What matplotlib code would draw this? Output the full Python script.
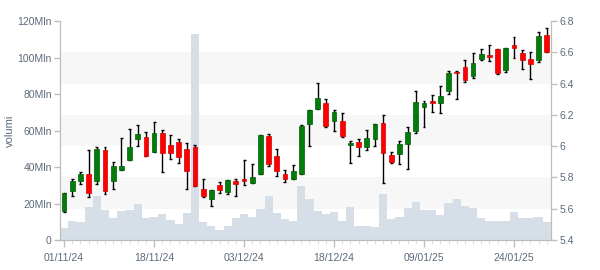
import matplotlib
matplotlib.use("Agg")
import matplotlib.pyplot as plt
from matplotlib.patches import Rectangle
from matplotlib.transforms import blended_transform_factory

plt.rcParams['font.family'] = ['Liberation Sans', 'DejaVu Sans']

# daily OHLC prices (right axis) and volumes in millions (left axis)
opens = [5.585, 5.711, 5.779, 5.822, 5.779, 5.975, 5.779, 5.850, 5.914, 6.044,
         6.056, 5.965, 6.082, 6.005, 6.027, 5.980, 5.992, 5.724, 5.660, 5.749,
         5.705, 5.775, 5.790, 5.762, 5.824, 6.065, 5.937, 5.822, 5.792, 5.824,
         6.144, 6.235, 6.274, 6.163, 6.159, 6.009, 6.027, 5.997, 6.044, 6.148,
         5.941, 5.952, 6.016, 6.099, 6.252, 6.289, 6.278, 6.350, 6.474, 6.504,
         6.451, 6.557, 6.583, 6.619, 6.487, 6.644, 6.593, 6.555, 6.549, 6.711]
highs = [5.700, 5.792, 5.837, 5.975, 5.997, 5.997, 5.901, 6.050, 6.108, 6.133,
         6.093, 6.152, 6.101, 6.069, 6.044, 6.018, 6.005, 5.788, 5.718, 5.773,
         5.784, 5.788, 5.909, 5.886, 6.071, 6.078, 5.982, 5.845, 5.877, 6.133,
         6.231, 6.404, 6.299, 6.229, 6.210, 6.031, 6.046, 6.101, 6.142, 6.197,
         5.960, 6.031, 6.120, 6.353, 6.289, 6.325, 6.382, 6.478, 6.480, 6.549,
         6.593, 6.619, 6.647, 6.619, 6.630, 6.696, 6.617, 6.600, 6.730, 6.753]
lows = [5.581, 5.681, 5.756, 5.673, 5.756, 5.696, 5.724, 5.845, 5.911, 6.001,
        5.939, 5.960, 5.833, 5.916, 5.890, 5.724, 5.743, 5.675, 5.617, 5.700,
        5.694, 5.681, 5.754, 5.762, 5.824, 5.871, 5.807, 5.769, 5.788, 5.824,
        5.999, 6.235, 6.125, 6.099, 6.056, 5.890, 5.935, 5.975, 6.003, 5.767,
        5.890, 5.884, 5.852, 6.086, 6.120, 6.216, 6.210, 6.331, 6.299, 6.412,
        6.434, 6.553, 6.542, 6.459, 6.472, 6.567, 6.491, 6.427, 6.540, 6.600]
closes = [5.700, 5.775, 5.820, 5.703, 5.980, 5.715, 5.873, 5.873, 5.995, 6.078,
          5.939, 6.082, 5.958, 5.954, 5.933, 5.843, 5.743, 5.683, 5.718, 5.722,
          5.781, 5.760, 5.777, 5.803, 6.071, 5.888, 5.839, 5.788, 5.841, 6.129,
          6.231, 6.306, 6.129, 6.216, 6.067, 6.020, 5.997, 6.050, 6.142, 5.958,
          5.899, 6.012, 6.088, 6.282, 6.274, 6.278, 6.321, 6.468, 6.466, 6.425,
          6.532, 6.589, 6.572, 6.468, 6.625, 6.627, 6.553, 6.523, 6.704, 6.600]
volumes = [6.6, 10.4, 9.9, 18.1, 24.1, 16.4, 12.1, 15.9, 16.4, 19.7,
           12.1, 12.6, 14.2, 11.0, 8.8, 14.8, 112.9, 9.9, 7.7, 5.5,
           7.7, 12.1, 14.2, 12.6, 17.0, 24.1, 14.8, 11.5, 10.4, 29.6,
           22.5, 15.9, 14.2, 15.3, 10.4, 18.1, 7.7, 7.7, 7.1, 25.2,
           11.5, 12.6, 17.5, 20.8, 16.4, 16.4, 13.7, 20.3, 22.5, 18.6,
           17.5, 12.1, 10.4, 10.4, 10.4, 15.3, 12.1, 12.1, 12.6, 9.9]

date_ticks = [0, 11, 22, 33, 44, 55]
date_labels = ["01/11/24", "18/11/24", "03/12/24", "18/12/24", "09/01/25", "24/01/25"]
vol_ticks = [0, 20, 40, 60, 80, 100, 120]
vol_labels = ["0", "20Mln", "40Mln", "60Mln", "80Mln", "100Mln", "120Mln"]
price_ticks = [5.4, 5.6, 5.8, 6.0, 6.2, 6.4, 6.6, 6.8]
price_labels = ["5.4", "5.6", "5.8", "6", "6.2", "6.4", "6.6", "6.8"]

text_col = "#5d6b7b"
spine_col = "#bdbdbd"

fig = plt.figure(figsize=(6, 2.7), dpi=100)
ax = fig.add_axes([0.1, 0.111, 0.818, 0.811])
ax2 = ax.twinx()

n = len(volumes)
x = list(range(n))

# volume bars
ax.bar(x, volumes, width=1.0, color="#d6dfe8", zorder=2)
ax.set_xlim(-0.5, n - 0.5)
ax.set_ylim(0, 120)
ax2.set_ylim(5.4, 6.8)

# alternating bands, following the price axis
tr = blended_transform_factory(ax.transAxes, ax2.transData)
for lo in [5.6, 6.0, 6.4]:
    ax.add_patch(Rectangle((0, lo), 1, 0.2, transform=tr, facecolor="#f7f7f7",
                           edgecolor="none", zorder=0))

# candles
for i in x:
    o, h, l, c = opens[i], highs[i], lows[i], closes[i]
    up = c >= o
    face = "#007d0a" if up else "#ff0000"
    edge = "#005a05" if up else "#d00000"
    ax2.vlines(i, l, h, color="black", lw=1, zorder=2)
    ax2.hlines([l, h], i - 0.18, i + 0.18, color="black", lw=1, zorder=2)
    ax2.bar(i, max(abs(c - o), 0.006), bottom=min(o, c), width=0.58,
            color=face, edgecolor=edge, lw=0.5, zorder=3)

# axes styling
ax.set_xticks(date_ticks)
ax.set_xticklabels(date_labels)
ax.set_xticks(x, minor=True)
ax.set_yticks(vol_ticks)
ax.set_yticklabels(vol_labels)
ax2.set_yticks(price_ticks)
ax2.set_yticklabels(price_labels)
ax.set_ylabel("volumi", color=text_col, fontsize=8, labelpad=2)

for a in (ax, ax2):
    for s in a.spines.values():
        s.set_color(spine_col)
    a.spines["top"].set_visible(False)
    a.tick_params(colors=spine_col, labelcolor=text_col, labelsize=7.5, width=1)
ax.tick_params(axis="x", which="major", length=5, pad=4)
ax.tick_params(axis="x", which="minor", length=3, color="#dddddd")
ax.tick_params(axis="y", length=4, pad=2)
ax2.tick_params(axis="y", length=4, pad=2)

fig.savefig("out.png", dpi=100)
